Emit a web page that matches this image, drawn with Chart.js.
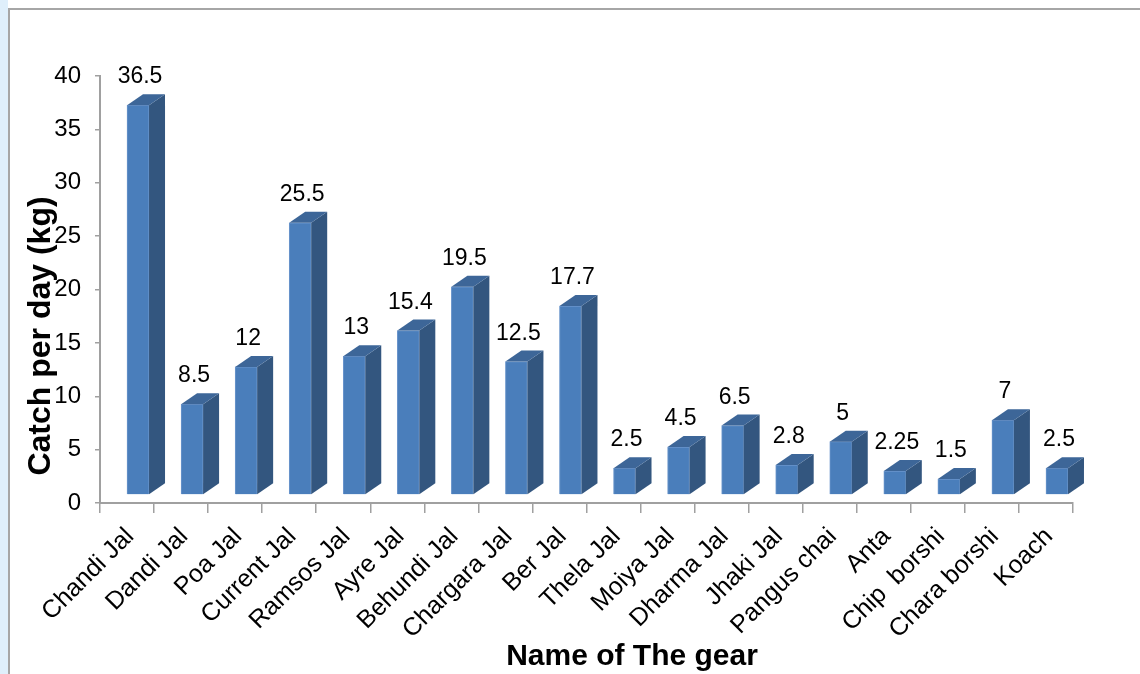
<!DOCTYPE html>
<html>
<head>
<meta charset="utf-8">
<title>Catch per day by gear</title>
<script src="https://cdn.jsdelivr.net/npm/chart.js@4/dist/chart.umd.min.js"></script>
<style>
    html, body { margin: 0; padding: 0; background: #ffffff; }
    #page { position: relative; width: 1140px; height: 674px; overflow: hidden; }
    #strip { position: absolute; left: 0; top: 0; width: 8px; height: 674px; background: #dfeffb; }
    #frame {
        position: absolute; left: 8px; top: 8px; right: -10px; bottom: -10px;
        border-left: 2px solid #a6a6a6; border-top: 2px solid #a6a6a6;
    }
    #chart { position: absolute; left: 0; top: 0; }
</style>
</head>
<body>
<div id="page">
    <div id="strip"></div>
    <div id="frame"></div>
    <canvas id="chart" width="1140" height="674"></canvas>
</div>
<script>
// Data
const gears = [
    'Chandi Jal', 'Dandi Jal', 'Poa Jal', 'Current Jal', 'Ramsos Jal', 'Ayre Jal',
    'Behundi Jal', 'Chargara Jal', 'Ber Jal', 'Thela Jal', 'Moiya Jal', 'Dharma Jal',
    'Jhaki Jal', 'Pangus chai', 'Anta', 'Chip  borshi', 'Chara borshi', 'Koach'
];
const catchPerDay = [36.5, 8.5, 12, 25.5, 13, 15.4, 19.5, 12.5, 17.7, 2.5, 4.5, 6.5, 2.8, 5, 2.25, 1.5, 7, 2.5];
const yTicks = [0, 5, 10, 15, 20, 25, 30, 35, 40];

const yTitle = 'Catch per day (kg)';
const xTitle = 'Name of The gear';

const FONT = "'Liberation Sans', Arial, sans-serif";
const colors = {
    front: '#4a7ebb',
    side: '#33567f',
    top: '#3d6698',
    edge: '#6b96cc',
    axis: '#a0a0a0',
    text: '#000000'
};

// 3D column look: front face shifted, then side and top faces added
const depth = { dx: 16, dy: 11, shiftX: 11, shiftY: 8 };

const bar3d = {
    id: 'bar3d',
    beforeDatasetDraw(chart) {
        chart.ctx.save();
        chart.ctx.translate(depth.shiftX, -depth.shiftY);
    },
    afterDatasetDraw(chart, args) {
        const ctx = chart.ctx;
        args.meta.data.forEach(bar => {
            const { x, y, base, width } = bar.getProps(['x', 'y', 'base', 'width'], true);
            const l = x - width / 2;
            const r = x + width / 2;

            ctx.fillStyle = colors.side;
            ctx.beginPath();
            ctx.moveTo(r, y);
            ctx.lineTo(r + depth.dx, y - depth.dy);
            ctx.lineTo(r + depth.dx, base - depth.dy);
            ctx.lineTo(r, base);
            ctx.closePath();
            ctx.fill();

            ctx.fillStyle = colors.top;
            ctx.beginPath();
            ctx.moveTo(l, y);
            ctx.lineTo(r, y);
            ctx.lineTo(r + depth.dx, y - depth.dy);
            ctx.lineTo(l + depth.dx, y - depth.dy);
            ctx.closePath();
            ctx.fill();
        });
        ctx.restore();
    }
};

// Value labels above each column
const valueLabels = {
    id: 'valueLabels',
    afterDatasetsDraw(chart) {
        const ctx = chart.ctx;
        const meta = chart.getDatasetMeta(0);
        ctx.save();
        ctx.font = `23px ${FONT}`;
        ctx.fillStyle = colors.text;
        ctx.textAlign = 'center';
        ctx.textBaseline = 'alphabetic';
        meta.data.forEach((bar, i) => {
            ctx.fillText(String(catchPerDay[i]), bar.x + 13, bar.y - 30);
        });
        ctx.restore();
    }
};

// Axis titles, placed like the Excel original (not centred on the plot)
const axisTitles = {
    id: 'axisTitles',
    afterDraw(chart) {
        const ctx = chart.ctx;
        ctx.save();
        ctx.fillStyle = colors.text;
        ctx.textAlign = 'center';
        ctx.textBaseline = 'alphabetic';

        ctx.font = `bold 30px ${FONT}`;
        ctx.fillText(xTitle, 632, 665);

        ctx.translate(50, 336);
        ctx.rotate(-Math.PI / 2);
        ctx.font = `bold 32px ${FONT}`;
        ctx.fillText(yTitle, 0, 0);
        ctx.restore();
    }
};

const ctx = document.getElementById('chart').getContext('2d');
new Chart(ctx, {
    type: 'bar',
    data: {
        labels: gears,
        datasets: [{
            data: catchPerDay,
            backgroundColor: colors.front,
            borderColor: colors.edge,
            borderWidth: 1,
            barThickness: 22,
            clip: false
        }]
    },
    options: {
        responsive: false,
        animation: false,
        layout: { padding: { top: 76, right: 67, left: 0, bottom: 0 } },
        plugins: {
            legend: { display: false },
            tooltip: { enabled: false },
            title: { display: false }
        },
        scales: {
            x: {
                afterFit(scale) { scale.height = 674 - 503; },
                grid: {
                    drawOnChartArea: false,
                    drawTicks: true,
                    tickLength: 10,
                    color: colors.axis,
                    lineWidth: 1.5
                },
                border: { color: colors.axis, width: 2 },
                ticks: {
                    autoSkip: false,
                    minRotation: 45,
                    maxRotation: 45,
                    padding: 9,
                    labelOffset: 3,
                    color: colors.text,
                    font: { family: FONT, size: 25 }
                }
            },
            y: {
                min: 0,
                max: 40,
                afterFit(scale) { scale.width = 100; },
                afterBuildTicks(scale) { scale.ticks = yTicks.map(v => ({ value: v })); },
                grid: {
                    drawOnChartArea: false,
                    drawTicks: true,
                    tickLength: 5,
                    color: colors.axis,
                    lineWidth: 1.5
                },
                border: { color: colors.axis, width: 2 },
                ticks: {
                    padding: 14,
                    color: colors.text,
                    font: { family: FONT, size: 24 }
                }
            }
        }
    },
    plugins: [bar3d, valueLabels, axisTitles]
});
</script>
</body>
</html>
